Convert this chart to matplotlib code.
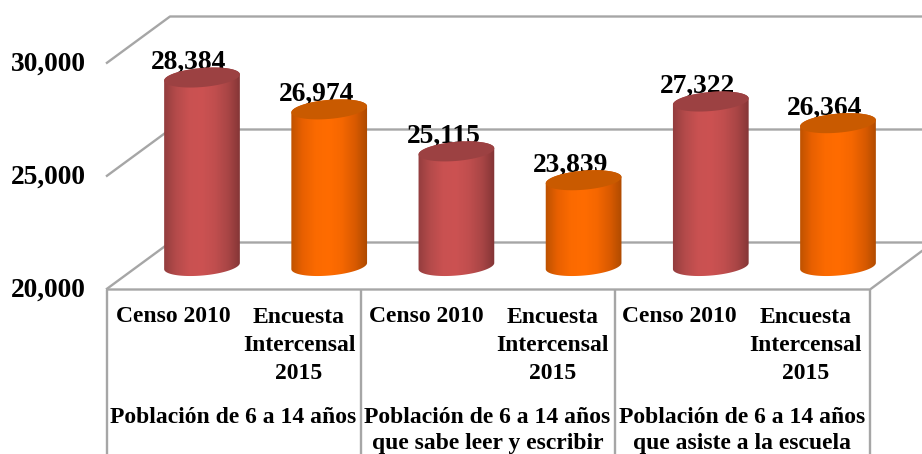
import numpy as np
import matplotlib
matplotlib.use("Agg")
import matplotlib.pyplot as plt
from matplotlib.path import Path
from matplotlib.patches import PathPatch
from matplotlib.colors import LinearSegmentedColormap
from matplotlib.transforms import Affine2D, IdentityTransform

# ---- data ----
values = [28384, 26974, 25115, 23839, 27322, 26364]
series_labels = ["Censo 2010", "Encuesta\nIntercensal\n2015"]
group_labels = ["Población de 6 a 14 años",
                "Población de 6 a 14 años\nque sabe leer y escribir",
                "Población de 6 a 14 años\nque asiste a la escuela"]
axis_ticks = [20000, 25000, 30000]

# ---- layout (pixels of the 922x454 image) ----
W, H = 922, 454
PX_PER_UNIT = 113 / 5000
MID_Y0 = 267
X0, DX = 202, 127.2
GRAY = "#a6a6a6"
FONT = "Liberation Serif"

fig = plt.figure(figsize=(W / 100, H / 100), dpi=100, facecolor="white")
ax = fig.add_axes([0, 0, 1, 1])
ax.set_xlim(-X0 / DX, (W - X0) / DX)
ax.set_ylim(20000 - (H - MID_Y0) / PX_PER_UNIT, 20000 + MID_Y0 / PX_PER_UNIT)
ax.axis("off")
pix = Affine2D().scale(1, -1).translate(0, H)


def y_front(v):
    return 289.5 - (v - 20000) * PX_PER_UNIT


def y_back(v):
    return y_front(v) - 47


def pline(xs, ys, z=1):
    ax.plot(xs, ys, color=GRAY, lw=1.7, transform=pix, zorder=z,
            solid_capstyle="butt", clip_on=False)


# walls / grid
for v in axis_ticks:
    pline([106, 170, W], [y_front(v), y_back(v), y_back(v)])
    ax.text(85.5, y_front(v) + 1, f"{v:,}", transform=pix, ha="right", va="center",
            family=FONT, weight="bold", fontsize=19.8, color="black")
pline([106, 870, 924], [y_front(20000)] * 2 + [y_front(20000) - 40])
for x in [106.5, 360.5, 615, 870]:
    pline([x, x], [y_front(20000), H])

# cylinders
cm_red = LinearSegmentedColormap.from_list(
    "r", ["#8e3b3c", "#b34a4a", "#c95151", "#cc5252", "#c04e4e", "#a84545", "#7f3334"])
cm_org = LinearSegmentedColormap.from_list(
    "o", ["#b85000", "#e86000", "#fb6a00", "#ff6c00", "#f56700", "#d85a00", "#a84800"])
tops = ["#9c4142", "#c95a00"]
RX, RY = 38, 9.5
TILT = np.deg2rad(5)


def ellipse(cx, cy, a0=0, a1=2 * np.pi, n=60):
    t = np.linspace(a0, a1, n)
    x, y = RX * np.cos(t), RY * np.sin(t)
    return np.c_[cx + x * np.cos(TILT) - y * np.sin(TILT),
                 cy + x * np.sin(TILT) + y * np.cos(TILT)]


grad = np.linspace(0, 1, 200).reshape(1, -1)
for i, v in enumerate(values):
    cx, ctop = ax.transData.transform((i, v))
    _, cbot = ax.transData.transform((i, 20000))
    cbot += 1
    lower = ellipse(cx, cbot, np.pi, 2 * np.pi)
    upper = ellipse(cx, ctop, 0, np.pi)
    verts = np.r_[lower, upper, lower[:1]]
    body = Path(verts, closed=True)
    w = (RX + 2) / DX
    im = ax.imshow(grad, cmap=cm_red if i % 2 == 0 else cm_org, aspect="auto",
                   extent=(i - w, i + w, 20000 - 20 / PX_PER_UNIT, v + 20 / PX_PER_UNIT),
                   zorder=4, interpolation="bilinear")
    im.set_clip_path(PathPatch(body, transform=IdentityTransform()))
    ax.add_patch(PathPatch(Path(ellipse(cx, ctop), closed=True), transform=IdentityTransform(),
                           fc=tops[i % 2], ec="none", zorder=5))
    ax.text(i - 13 / DX, v + 15 / PX_PER_UNIT, f"{v:,}", ha="center", va="center",
            family=FONT, weight="bold", fontsize=19.8, color="black", zorder=3)

ax.set_xlim(-X0 / DX, (W - X0) / DX)
ax.set_ylim(20000 - (H - MID_Y0) / PX_PER_UNIT, 20000 + MID_Y0 / PX_PER_UNIT)

# category labels
for g, label in enumerate(group_labels):
    xc = 173 + g * 253.3
    ax.text(xc, 317, series_labels[0], transform=pix, ha="center", va="center",
            family=FONT, weight="bold", fontsize=17)
    ax.text(xc + 126, 307, series_labels[1], transform=pix, ha="center", va="top",
            family=FONT, weight="bold", fontsize=17, linespacing=1.44)
    ax.text(233 + g * 254.5, 407, label, transform=pix, ha="center", va="top",
            family=FONT, weight="bold", fontsize=17, linespacing=1.3)

fig.savefig("out.png", dpi=100, facecolor="white")
